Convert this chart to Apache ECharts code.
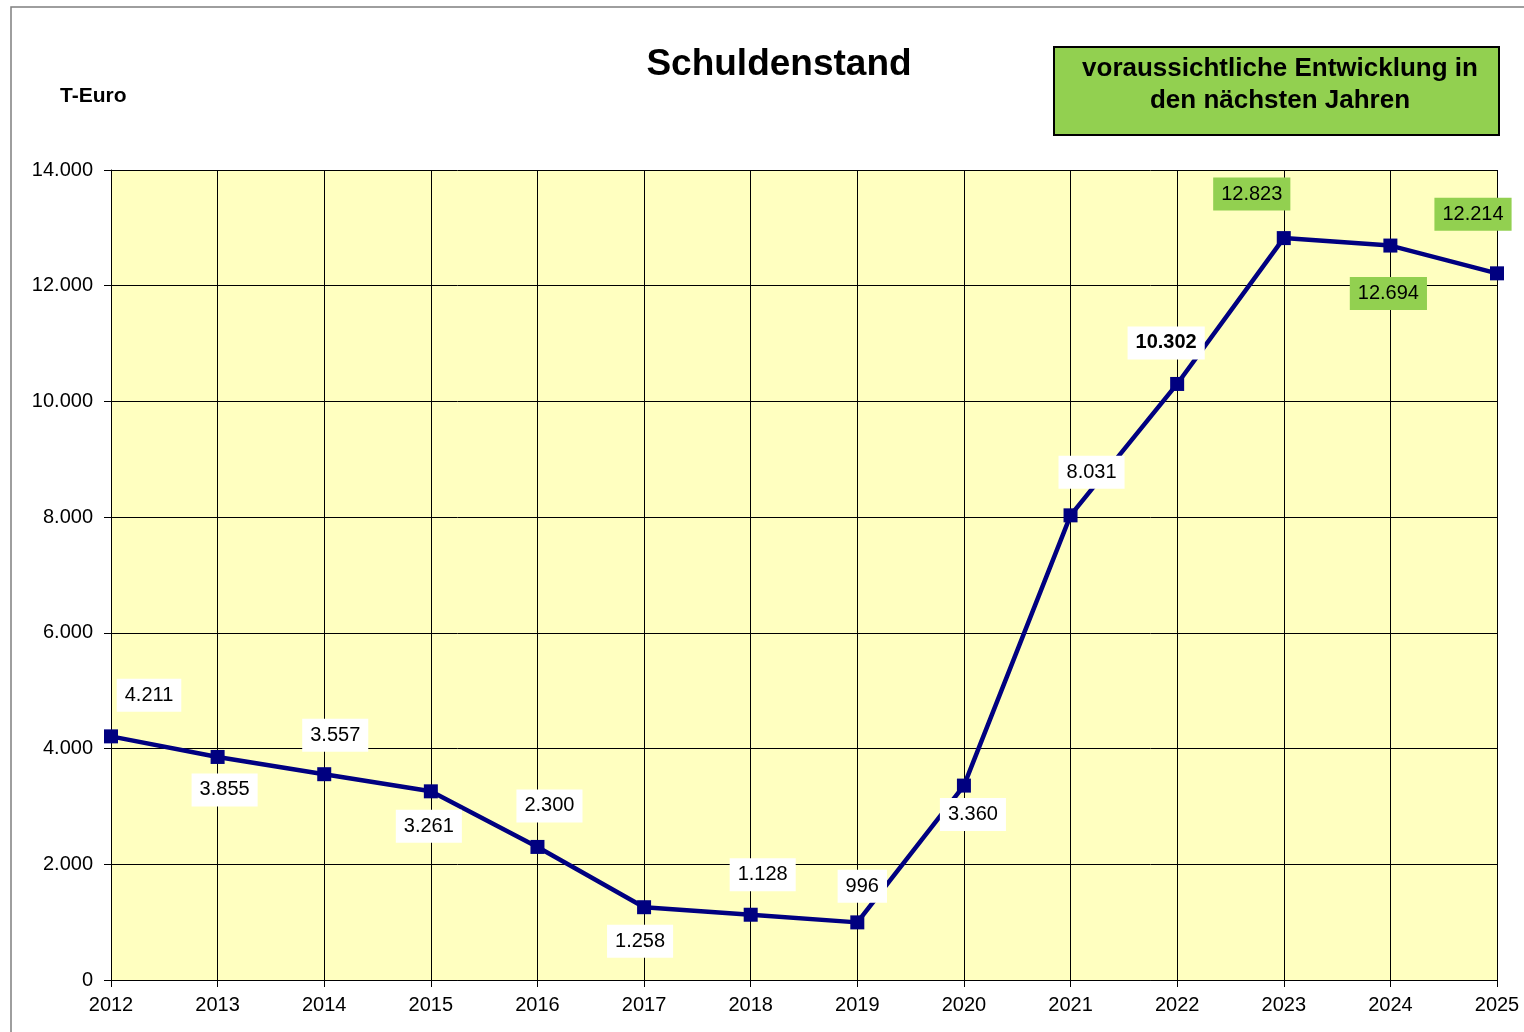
<!DOCTYPE html>
<html>
<head>
<meta charset="utf-8">
<script src="https://cdn.jsdelivr.net/npm/echarts@6/dist/echarts.min.js"></script>
<style>
  html, body { margin: 0; padding: 0; background: #fff; }
  #main { width: 1524px; height: 1032px; }
</style>
</head>
<body>
<div id="main"></div>
<script>
// Jahre und Schuldenstand in T-Euro
var years = ['2012', '2013', '2014', '2015', '2016', '2017', '2018', '2019', '2020', '2021', '2022', '2023', '2024', '2025'];
var debt = [4211, 3855, 3557, 3261, 2300, 1258, 1128, 996, 3360, 8031, 10302, 12823, 12694, 12214];
// ab diesem Jahr Prognose (grüne Labels)
var forecastFrom = '2023';
var yTicks = [0, 2000, 4000, 6000, 8000, 10000, 12000, 14000];

// Lage der Beschriftungen relativ zum Punkt
var labelOffsets = [[38, -41], [7, 33], [11, -39], [-2, 35], [12, -41], [-4, 34], [12, -40],
                    [5, -36], [9, 29], [21, -43], [-11, -41], [-32, -44], [-2, 48], [-24, -59]];

var FONT = "'Liberation Sans', Arial, sans-serif";
var NAVY = '#000080';
var GREEN = '#92D050';

function fmt(v) {
    return String(v).replace(/\B(?=(\d{3})+(?!\d))/g, '.');
}

var firstForecast = years.indexOf(forecastFrom);
var seriesData = debt.map(function (v, i) {
    return {
        value: v,
        label: {
            backgroundColor: i >= firstForecast ? GREEN : '#ffffff',
            fontWeight: years[i] === '2022' ? 'bold' : 'normal'
        }
    };
});

var myChart = echarts.init(document.getElementById('main'));
var option = {
    backgroundColor: '#ffffff',
    animation: false,
    title: {
        text: 'Schuldenstand',
        left: 774,
        top: 41,
        textAlign: 'center',
        textStyle: { fontFamily: FONT, fontSize: 37, fontWeight: 'bold', color: '#000' }
    },
    graphic: [
        {
            type: 'rect',
            shape: { x: 11, y: 7, width: 1540, height: 1060 },
            style: { fill: 'none', stroke: '#7f7f7f', lineWidth: 1.5 },
            silent: true
        },
        {
            type: 'text',
            left: 60,
            top: 86,
            style: { text: 'T-Euro', font: 'bold 21px ' + FONT, fill: '#000' }
        },
        {
            type: 'group',
            left: 1053,
            top: 46,
            children: [
                {
                    type: 'rect',
                    shape: { x: 0, y: 0, width: 445, height: 88 },
                    style: { fill: GREEN, stroke: '#000', lineWidth: 2 }
                },
                {
                    type: 'text',
                    x: 226,
                    y: 38,
                    style: {
                        text: 'voraussichtliche Entwicklung in\nden nächsten Jahren',
                        font: 'bold 26px ' + FONT,
                        fill: '#000',
                        align: 'center',
                        verticalAlign: 'middle',
                        lineHeight: 32
                    }
                }
            ]
        }
    ],
    grid: {
        left: 111,
        right: 27,
        top: 170,
        bottom: 52,
        show: true,
        backgroundColor: '#FFFFC0',
        borderWidth: 0
    },
    xAxis: {
        type: 'category',
        data: years,
        boundaryGap: false,
        axisLine: { lineStyle: { color: '#000', width: 1 } },
        axisTick: { show: true, length: 7, lineStyle: { color: '#000' } },
        axisLabel: { fontFamily: FONT, fontSize: 20, color: '#000', margin: 15 },
        splitLine: { show: true, lineStyle: { color: '#000', width: 1 } }
    },
    yAxis: {
        type: 'value',
        min: yTicks[0],
        max: yTicks[yTicks.length - 1],
        interval: yTicks[1] - yTicks[0],
        axisLine: { show: true, lineStyle: { color: '#000', width: 1 } },
        axisTick: { show: true, length: 7, lineStyle: { color: '#000' } },
        axisLabel: {
            fontFamily: FONT, fontSize: 20, color: '#000', margin: 18,
            formatter: function (v) { return fmt(v); }
        },
        splitLine: { show: true, lineStyle: { color: '#000', width: 1 } }
    },
    series: [
        {
            name: 'Schuldenstand',
            type: 'line',
            data: seriesData,
            symbol: 'rect',
            symbolSize: 14,
            itemStyle: { color: NAVY },
            lineStyle: { color: NAVY, width: 4.5 },
            label: {
                show: true,
                position: 'inside',
                fontFamily: FONT,
                fontSize: 20,
                color: '#000',
                padding: [6, 8],
                lineHeight: 21,
                formatter: function (p) { return fmt(p.value); }
            },
            labelLayout: function (params) {
                var off = labelOffsets[params.dataIndex];
                return { dx: off[0], dy: off[1], hideOverlap: false };
            },
            z: 5
        }
    ]
};
myChart.setOption(option);
</script>
</body>
</html>
